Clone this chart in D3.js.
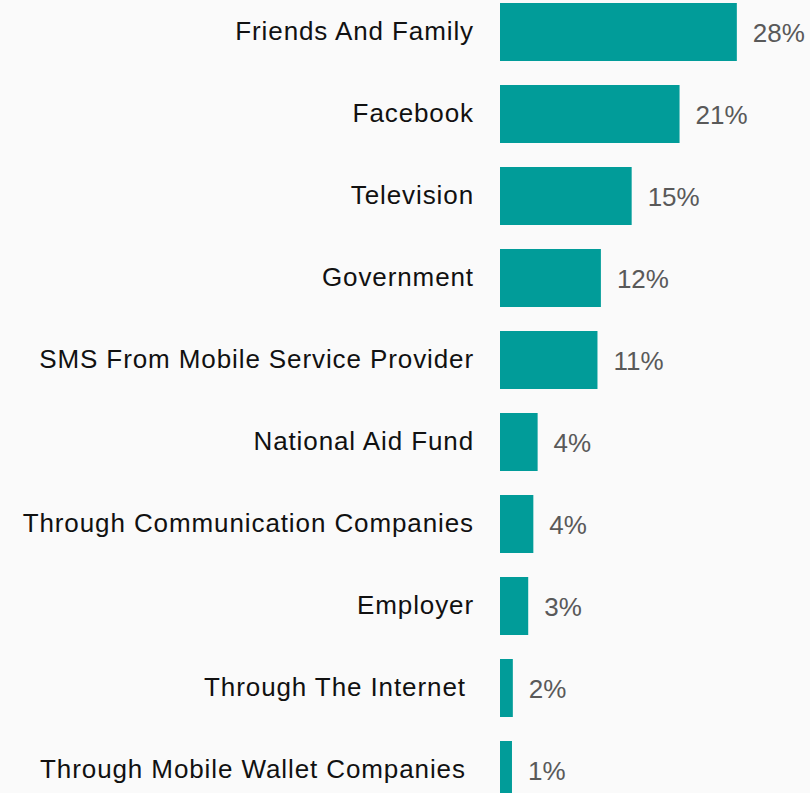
<!DOCTYPE html>
<html>
<head>
<meta charset="utf-8">
<script src="https://cdn.jsdelivr.net/npm/d3@7"></script>
<style>
  html, body { margin: 0; padding: 0; background: #fafafa; }
  svg { display: block; }
  text { font-family: "Liberation Sans", Arial, sans-serif; white-space: pre; }
</style>
</head>
<body>
<svg id="chart" width="810" height="793"></svg>
<script>
// Where people heard about it (share of respondents, %)
const categories = [
  "Friends And Family",
  "Facebook",
  "Television",
  "Government",
  "SMS From Mobile Service Provider",
  "National Aid Fund",
  "Through Communication Companies",
  "Employer",
  "Through The Internet ",
  "Through Mobile Wallet Companies "
];
const shares = [27.7, 21.0, 15.4, 11.8, 11.4, 4.4, 3.9, 3.3, 1.5, 1.4];

const width = 810, height = 793;
const barLeft = 500;
const svg = d3.select("#chart");

svg.append("rect").attr("width", width).attr("height", height).attr("fill", "#fafafa");

const x = d3.scaleLinear().domain([0, 30]).range([barLeft, barLeft + 30 * 8.55]);
const y = d3.scaleBand()
  .domain(categories)
  .range([-9, 811])
  .paddingInner(24 / 82)
  .paddingOuter(12 / 82);

const data = categories.map((c, i) => ({ cat: c, v: shares[i] }));
const fmt = v => Math.round(v) + "%";

const rows = svg.selectAll("g.row").data(data).join("g").attr("class", "row");

rows.append("rect")
  .attr("x", x(0))
  .attr("y", d => y(d.cat))
  .attr("width", d => x(d.v) - x(0))
  .attr("height", y.bandwidth())
  .attr("fill", "#019c99");

// category names, right-aligned against the bars
rows.append("text")
  .attr("x", barLeft - 26)
  .attr("y", d => y(d.cat) + y.bandwidth() / 2 + 7.5)
  .attr("text-anchor", "end")
  .attr("font-size", 26)
  .attr("letter-spacing", "0.9px")
  .attr("fill", "#111")
  .text(d => d.cat);

// value labels after each bar
rows.append("text")
  .attr("x", d => x(d.v) + 16)
  .attr("y", d => y(d.cat) + y.bandwidth() / 2 + 10)
  .attr("font-size", 26)
  .attr("fill", "#595959")
  .text(d => fmt(d.v));
</script>
</body>
</html>
